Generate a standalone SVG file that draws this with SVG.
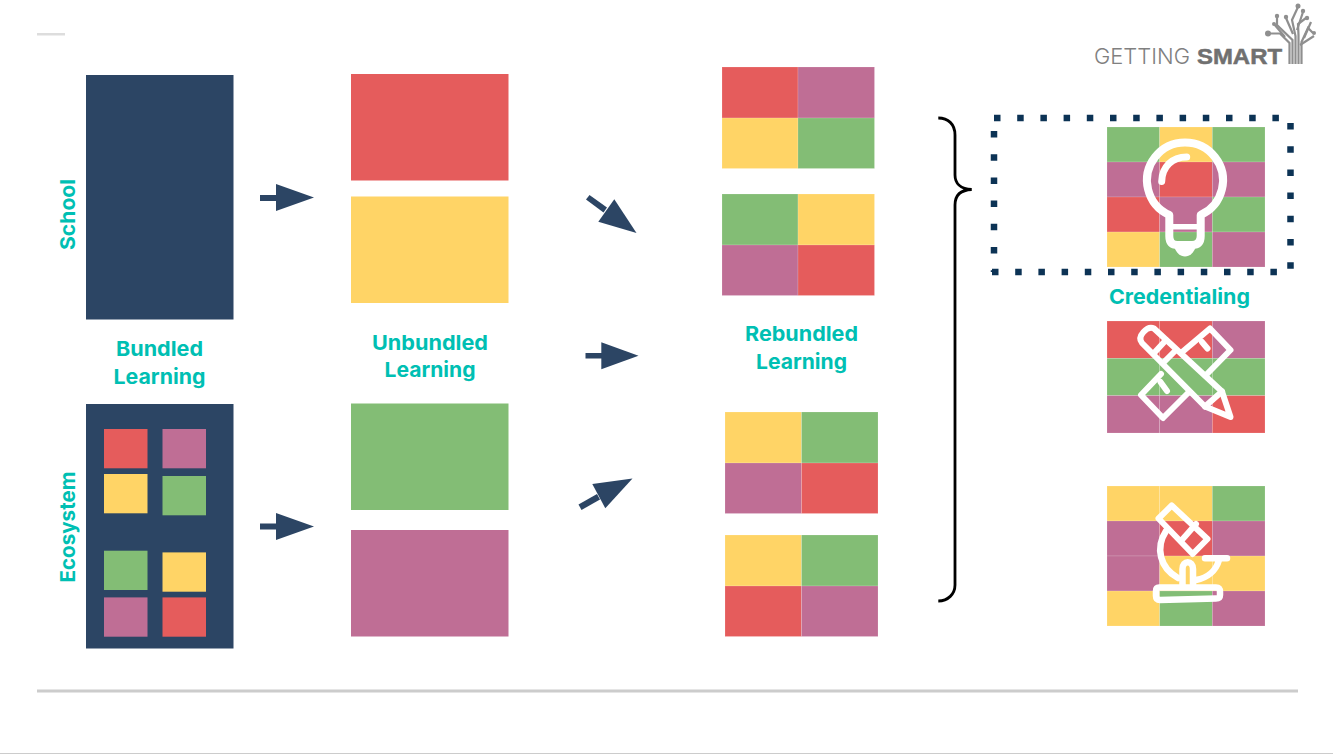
<svg xmlns="http://www.w3.org/2000/svg" width="1333" height="754" viewBox="0 0 1333 754">
<style>
.r{fill:#E55C5C}.p{fill:#BF6E95}.y{fill:#FFD466}.g{fill:#83BD75}.n{fill:#2C4564}
.c rect{stroke:#fff;stroke-opacity:.25;stroke-width:.6}
.t{font-family:"Inter","Liberation Sans",sans-serif;font-weight:700;font-size:20.500px;fill:#00BFB3;text-anchor:middle}
.i{fill:none;stroke:#fff;stroke-linecap:round;stroke-linejoin:round}
.d{fill:none;stroke:#0C3355;stroke-width:6.500;stroke-dasharray:6.500 16.700}
.tr{fill:none;stroke:#8f8f8f;stroke-width:2.200}
.dot{fill:#8f8f8f}
</style>
<rect width="1333" height="754" fill="#fff"/>
<g id="frame">
<rect x="37" y="33" width="28" height="2.500" fill="#ddd"/>
<rect x="37" y="689.500" width="1261" height="3" fill="#ccc"/>
<rect x="0" y="753" width="1333" height="1" fill="#ccc"/>
</g>
<g id="logo">
<text x="1094" y="64" font-family="Inter,'Liberation Sans',sans-serif" font-weight="300" font-size="22" fill="#808080" textLength="96" lengthAdjust="spacingAndGlyphs">GETTING</text>
<text x="1197" y="64" font-family="'Liberation Sans',sans-serif" font-weight="700" font-size="22" fill="#707070" stroke="#707070" stroke-width=".5" textLength="85" lengthAdjust="spacingAndGlyphs">SMART</text>
<path class="tr" stroke-width="2" d="M1289.500 64V43L1280 33.500H1269M1292.500 64V40L1277 25V17M1295.500 64V36L1292 20L1298 7M1298.500 64V35L1298 24L1306 18M1301.500 64V42L1308 28L1313 33"/>
<path class="tr" d="M1293 34L1286 18M1297 30L1303 12M1300 45L1314 36M1285 37L1274 24M1304 38L1311 22"/>
<circle class="dot" cx="1268" cy="33.500" r="3"/><circle class="dot" cx="1277" cy="16" r="2.200"/><circle class="dot" cx="1286" cy="17" r="2.200"/><circle class="dot" cx="1298" cy="6" r="2.500"/><circle class="dot" cx="1303" cy="11" r="2.200"/><circle class="dot" cx="1307" cy="18" r="2.200"/><circle class="dot" cx="1314" cy="33" r="2"/><circle class="dot" cx="1274" cy="24" r="2"/>
</g>
<g id="school-block"><rect class="n" x="86" y="75" width="147.500" height="244.500"/></g>
<g id="ecosystem-block">
<rect class="n" x="86" y="404" width="147.500" height="244.500"/>
<rect class="r" x="104" y="429" width="43.500" height="39.300"/>
<rect class="p" x="162.500" y="429" width="43.500" height="39.300"/>
<rect class="y" x="104" y="474" width="43.500" height="39.300"/>
<rect class="g" x="162.500" y="476" width="43.500" height="39.300"/>
<rect class="g" x="104" y="550.700" width="43.500" height="39.300"/>
<rect class="y" x="162.500" y="552.400" width="43.500" height="39.300"/>
<rect class="p" x="104" y="597.400" width="43.500" height="39.300"/>
<rect class="r" x="162.500" y="597.400" width="43.500" height="39.300"/>
</g>
<g id="unbundled-red"><rect class="r" x="351" y="74" width="157.500" height="106.500"/></g>
<g id="unbundled-yellow"><rect class="y" x="351" y="196.500" width="157.500" height="106.500"/></g>
<g id="unbundled-green"><rect class="g" x="351" y="403.500" width="157.500" height="106.500"/></g>
<g id="unbundled-purple"><rect class="p" x="351" y="530" width="157.500" height="106.500"/></g>
<g id="rebundled-a" class="c">
<rect class="r" x="722" y="67" width="76" height="51"/><rect class="p" x="798" y="67" width="76.500" height="51"/>
<rect class="y" x="722" y="118" width="76" height="50.500"/><rect class="g" x="798" y="118" width="76.500" height="50.500"/>
</g>
<g id="rebundled-b" class="c">
<rect class="g" x="722" y="194" width="76" height="51"/><rect class="y" x="798" y="194" width="76.500" height="51"/>
<rect class="p" x="722" y="245" width="76" height="50.500"/><rect class="r" x="798" y="245" width="76.500" height="50.500"/>
</g>
<g id="rebundled-c" class="c">
<rect class="y" x="725" y="412" width="76.500" height="51"/><rect class="g" x="801.500" y="412" width="76.500" height="51"/>
<rect class="p" x="725" y="463" width="76.500" height="50.500"/><rect class="r" x="801.500" y="463" width="76.500" height="50.500"/>
</g>
<g id="rebundled-d" class="c">
<rect class="y" x="725" y="535" width="76.500" height="51"/><rect class="g" x="801.500" y="535" width="76.500" height="51"/>
<rect class="r" x="725" y="586" width="76.500" height="50.500"/><rect class="p" x="801.500" y="586" width="76.500" height="50.500"/>
</g>
<g id="connectors">
<g class="n">
<rect x="260" y="195" width="18" height="6"/><polygon points="276,184 314,197.500 276,211"/>
<rect x="260" y="523.500" width="18" height="6"/><polygon points="276,513 314,526.500 276,540"/>
<rect x="585.500" y="353" width="18" height="5.500"/><polygon points="601.300,342.300 638.500,355.700 601.300,369.300"/>
<polygon points="586,199.500 589.500,195 607,207.500 603.500,212.500"/><polygon points="614.300,199.300 636.500,233 598.300,221.700"/>
<polygon points="578.500,504.500 581.500,510 600,499.500 597,494"/><polygon points="592.300,484 632.500,478.500 605.300,508.300"/>
</g>
<path d="M938.300 118C948 118 955 124 955 135V175C955 183 960 189 971.700 189.500C960 190 955 196 955 205V585C955 594 948 601 938.300 601" fill="none" stroke="#000" stroke-width="2.800"/>
</g>
<g id="credentialing-grid" class="c">
<rect class="g" x="1107" y="127" width="52.700" height="35"/><rect class="y" x="1159.700" y="127" width="52.600" height="35"/><rect class="g" x="1212.300" y="127" width="52.700" height="35"/>
<rect class="p" x="1107" y="162" width="52.700" height="35"/><rect class="r" x="1159.700" y="162" width="52.600" height="35"/><rect class="p" x="1212.300" y="162" width="52.700" height="35"/>
<rect class="r" x="1107" y="197" width="52.700" height="35"/><rect class="p" x="1159.700" y="197" width="52.600" height="35"/><rect class="g" x="1212.300" y="197" width="52.700" height="35"/>
<rect class="y" x="1107" y="232" width="52.700" height="35"/><rect class="g" x="1159.700" y="232" width="52.600" height="35"/><rect class="p" x="1212.300" y="232" width="52.700" height="35"/>
</g>
<g id="bulb-icon">
<path class="i" stroke-width="8" d="M1169.300 215A38 38 0 1 1 1200.700 215V236Q1200.700 245 1192 245H1177.500Q1169.300 245 1169.300 236Z"/>
<path class="i" stroke-width="7" d="M1161.700 181.500C1162 167 1172 157 1186.700 157"/>
<path class="i" stroke-width="5.500" d="M1171 226.700H1199"/>
<path d="M1174 246H1196C1194 253 1190 256.500 1185 256.500C1180 256.500 1176 253 1174 246Z" fill="#fff"/>
</g>
<g id="dotted-frame">
<path class="d" d="M994 118H1290"/>
<path class="d" d="M1290.500 123V272"/>
<path class="d" d="M992 272H1290"/>
<path class="d" d="M994 131V272"/>
</g>
<g id="tools-grid" class="c">
<rect class="r" x="1107" y="321" width="52.700" height="37.300"/><rect class="r" x="1159.700" y="321" width="52.600" height="37.300"/><rect class="p" x="1212.300" y="321" width="52.700" height="37.300"/>
<rect class="g" x="1107" y="358.300" width="52.700" height="37.300"/><rect class="g" x="1159.700" y="358.300" width="52.600" height="37.300"/><rect class="g" x="1212.300" y="358.300" width="52.700" height="37.300"/>
<rect class="p" x="1107" y="395.600" width="52.700" height="37.400"/><rect class="p" x="1159.700" y="395.600" width="52.600" height="37.400"/><rect class="r" x="1212.300" y="395.600" width="52.700" height="37.400"/>
</g>
<g id="tools-icon">
<path class="i" stroke-width="6" d="M1154 328.500Q1149 326 1143.500 332Q1138 338 1142 343L1205 406.500L1230.500 417L1222 391.500Z"/>
<path class="i" stroke-width="6" d="M1205 406.500L1222 391.500M1166 340L1155 352M1176 350L1164 362"/>
<path class="i" stroke-width="6" d="M1181 353L1210 328.500L1230.500 350L1206 375M1161 374L1141 395L1163 418L1188 393"/>
<path class="i" stroke-width="6" d="M1202 342L1207.500 348.500M1160.500 382L1167 391"/>
</g>
<g id="science-grid" class="c">
<rect class="y" x="1107" y="486" width="52.700" height="35"/><rect class="y" x="1159.700" y="486" width="52.600" height="35"/><rect class="g" x="1212.300" y="486" width="52.700" height="35"/>
<rect class="p" x="1107" y="521" width="52.700" height="35"/><rect class="r" x="1159.700" y="521" width="52.600" height="35"/><rect class="p" x="1212.300" y="521" width="52.700" height="35"/>
<rect class="p" x="1107" y="556" width="52.700" height="35"/><rect class="y" x="1159.700" y="556" width="52.600" height="35"/><rect class="y" x="1212.300" y="556" width="52.700" height="35"/>
<rect class="y" x="1107" y="591" width="52.700" height="35"/><rect class="g" x="1159.700" y="591" width="52.600" height="35"/><rect class="p" x="1212.300" y="591" width="52.700" height="35"/>
</g>
<g id="microscope-icon">
<path class="i" stroke-width="6" d="M1171.700 505.500L1207.500 539L1192.700 554L1158.500 518.500Z"/>
<path class="i" stroke-width="6" d="M1196 524L1181 541"/>
<path class="i" stroke-width="6.500" d="M1166 531C1155 548 1160 568 1178 578M1205 558.300H1227M1219 560C1216 571 1207 578 1196 580"/>
<path class="i" stroke-width="6.500" d="M1182.500 585V569C1182.500 560 1193 560 1193 569V585"/>
<path class="i" stroke-width="6.500" d="M1159 587.500H1216Q1220 587.500 1220 592V595Q1220 598.500 1216 598.500L1160 600Q1156 600 1156 596V591Q1156 587.500 1159 587.500Z"/>
</g>
<g id="labels">
<text class="t" transform="translate(75 214.500) rotate(-90)" textLength="71" lengthAdjust="spacingAndGlyphs">School</text>
<text class="t" transform="translate(75 527) rotate(-90)" textLength="111" lengthAdjust="spacingAndGlyphs">Ecosystem</text>
<text class="t" x="159.500" y="356" textLength="87" lengthAdjust="spacingAndGlyphs">Bundled</text>
<text class="t" x="159.500" y="384" textLength="92" lengthAdjust="spacingAndGlyphs">Learning</text>
<text class="t" x="430" y="350" textLength="116" lengthAdjust="spacingAndGlyphs">Unbundled</text>
<text class="t" x="430" y="377" textLength="91" lengthAdjust="spacingAndGlyphs">Learning</text>
<text class="t" x="801.500" y="341" textLength="113" lengthAdjust="spacingAndGlyphs">Rebundled</text>
<text class="t" x="801.500" y="369" textLength="91" lengthAdjust="spacingAndGlyphs">Learning</text>
<text class="t" x="1179.500" y="304" textLength="141" lengthAdjust="spacingAndGlyphs">Credentialing</text>
</g>
</svg>
